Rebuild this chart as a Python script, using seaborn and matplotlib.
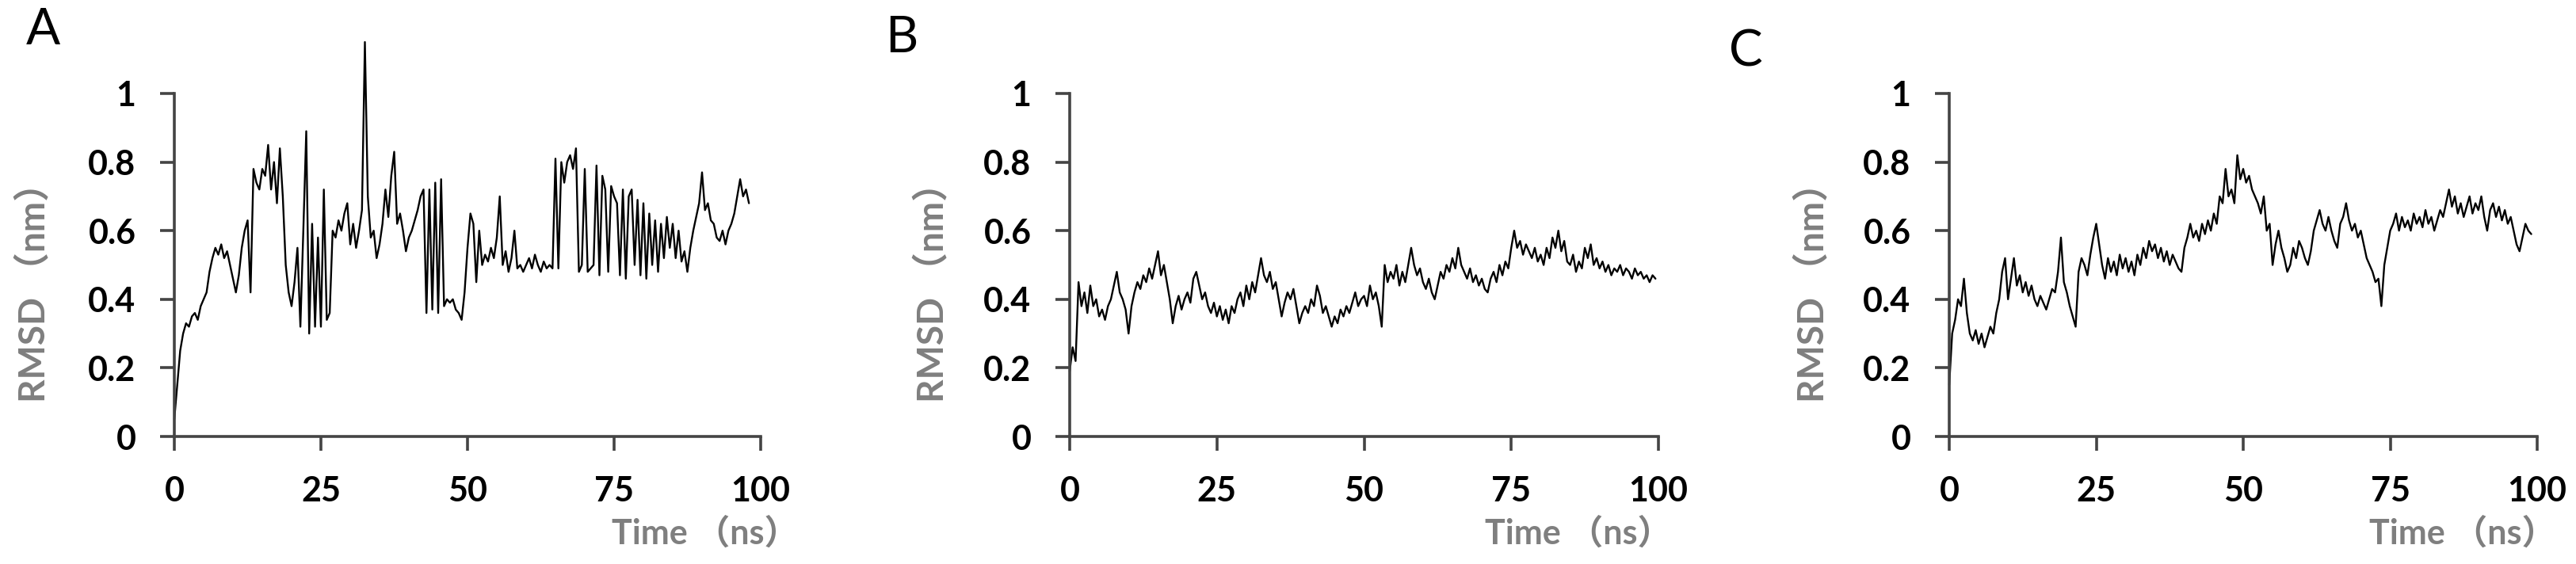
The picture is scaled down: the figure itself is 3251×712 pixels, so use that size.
import numpy as np
import pandas as pd
import matplotlib
matplotlib.use("Agg")
import matplotlib.pyplot as plt
import seaborn as sns

STEP = 0.5

rmsd_a = [
    0.05, 0.15, 0.25, 0.30, 0.33, 0.32, 0.35, 0.36, 0.34, 0.38,
    0.40, 0.42, 0.48, 0.52, 0.55, 0.53, 0.56, 0.52, 0.54, 0.50,
    0.46, 0.42, 0.47, 0.55, 0.60, 0.63, 0.42, 0.78, 0.74, 0.72,
    0.78, 0.76, 0.85, 0.72, 0.80, 0.68, 0.84, 0.70, 0.50, 0.42,
    0.38, 0.45, 0.55, 0.32, 0.60, 0.89, 0.30, 0.62, 0.32, 0.58,
    0.32, 0.72, 0.34, 0.36, 0.60, 0.58, 0.63, 0.60, 0.65, 0.68,
    0.56, 0.62, 0.55, 0.60, 0.66, 1.15, 0.70, 0.58, 0.60, 0.52,
    0.56, 0.62, 0.72, 0.64, 0.76, 0.83, 0.62, 0.65, 0.60, 0.54,
    0.58, 0.60, 0.63, 0.66, 0.70, 0.72, 0.36, 0.72, 0.37, 0.74,
    0.36, 0.75, 0.38, 0.40, 0.39, 0.40, 0.37, 0.36, 0.34, 0.42,
    0.55, 0.65, 0.62, 0.45, 0.60, 0.50, 0.53, 0.51, 0.55, 0.52,
    0.58, 0.70, 0.50, 0.54, 0.48, 0.52, 0.60, 0.49, 0.50, 0.48,
    0.50, 0.52, 0.49, 0.53, 0.50, 0.48, 0.51, 0.49, 0.50, 0.49,
    0.81, 0.49, 0.80, 0.74, 0.80, 0.82, 0.78, 0.84, 0.48, 0.50,
    0.78, 0.48, 0.49, 0.50, 0.79, 0.47, 0.76, 0.72, 0.48, 0.73,
    0.70, 0.68, 0.47, 0.72, 0.46, 0.70, 0.72, 0.50, 0.69, 0.47,
    0.68, 0.46, 0.65, 0.50, 0.63, 0.48, 0.62, 0.52, 0.64, 0.55,
    0.62, 0.52, 0.60, 0.51, 0.54, 0.48, 0.55, 0.60, 0.64, 0.68,
    0.77, 0.66, 0.68, 0.63, 0.62, 0.58, 0.57, 0.60, 0.56, 0.60,
    0.62, 0.65, 0.70, 0.75, 0.70, 0.72, 0.68,
]

rmsd_b = [
    0.19, 0.26, 0.22, 0.45, 0.38, 0.42, 0.36, 0.44, 0.38, 0.40,
    0.35, 0.37, 0.34, 0.38, 0.40, 0.44, 0.48, 0.42, 0.40, 0.37,
    0.30, 0.38, 0.42, 0.45, 0.43, 0.47, 0.45, 0.49, 0.46, 0.50,
    0.54, 0.47, 0.50, 0.45, 0.40, 0.33, 0.38, 0.41, 0.37, 0.40,
    0.42, 0.39, 0.46, 0.48, 0.44, 0.40, 0.42, 0.38, 0.36, 0.39,
    0.35, 0.38, 0.34, 0.37, 0.33, 0.38, 0.36, 0.40, 0.42, 0.38,
    0.44, 0.40, 0.45, 0.42, 0.47, 0.52, 0.47, 0.45, 0.48, 0.43,
    0.45, 0.40, 0.35, 0.39, 0.42, 0.40, 0.43, 0.38, 0.33, 0.36,
    0.38, 0.36, 0.40, 0.38, 0.44, 0.41, 0.36, 0.38, 0.35, 0.32,
    0.35, 0.33, 0.37, 0.35, 0.38, 0.36, 0.39, 0.42, 0.38, 0.40,
    0.41, 0.38, 0.44, 0.40, 0.42, 0.38, 0.32, 0.50, 0.45, 0.48,
    0.46, 0.50, 0.44, 0.48, 0.45, 0.50, 0.55, 0.50, 0.47, 0.49,
    0.45, 0.43, 0.46, 0.42, 0.40, 0.44, 0.48, 0.46, 0.50, 0.48,
    0.52, 0.49, 0.55, 0.50, 0.48, 0.46, 0.49, 0.45, 0.47, 0.44,
    0.46, 0.43, 0.42, 0.46, 0.48, 0.45, 0.50, 0.47, 0.51, 0.49,
    0.55, 0.60, 0.55, 0.57, 0.53, 0.56, 0.54, 0.52, 0.55, 0.51,
    0.53, 0.50, 0.55, 0.52, 0.58, 0.55, 0.60, 0.54, 0.57, 0.51,
    0.50, 0.53, 0.48, 0.51, 0.49, 0.55, 0.52, 0.56, 0.50, 0.52,
    0.49, 0.51, 0.48, 0.50, 0.47, 0.49, 0.48, 0.50, 0.47, 0.49,
    0.48, 0.46, 0.49, 0.47, 0.48, 0.46, 0.47, 0.45, 0.47, 0.46,
]

rmsd_c = [
    0.15, 0.30, 0.34, 0.40, 0.38, 0.46, 0.36, 0.30, 0.28, 0.31,
    0.27, 0.30, 0.26, 0.29, 0.32, 0.30, 0.36, 0.40, 0.48, 0.52,
    0.40, 0.46, 0.52, 0.44, 0.47, 0.42, 0.45, 0.41, 0.44, 0.40,
    0.38, 0.41, 0.39, 0.37, 0.40, 0.43, 0.42, 0.48, 0.58, 0.45,
    0.42, 0.38, 0.35, 0.32, 0.48, 0.52, 0.50, 0.47, 0.53, 0.58,
    0.62, 0.56, 0.50, 0.46, 0.52, 0.48, 0.51, 0.47, 0.53, 0.49,
    0.52, 0.48, 0.51, 0.47, 0.53, 0.50, 0.55, 0.52, 0.57, 0.54,
    0.56, 0.52, 0.55, 0.51, 0.54, 0.50, 0.53, 0.51, 0.49, 0.48,
    0.55, 0.58, 0.62, 0.58, 0.60, 0.57, 0.62, 0.59, 0.63, 0.60,
    0.65, 0.62, 0.70, 0.68, 0.78, 0.70, 0.72, 0.68, 0.82, 0.75,
    0.78, 0.74, 0.76, 0.72, 0.70, 0.68, 0.65, 0.70, 0.60, 0.62,
    0.50, 0.56, 0.60, 0.55, 0.52, 0.48, 0.50, 0.55, 0.52, 0.57,
    0.55, 0.52, 0.50, 0.54, 0.60, 0.63, 0.66, 0.62, 0.60, 0.64,
    0.60, 0.57, 0.55, 0.62, 0.64, 0.68, 0.63, 0.60, 0.62, 0.58,
    0.60, 0.56, 0.52, 0.50, 0.48, 0.45, 0.46, 0.38, 0.50, 0.55,
    0.60, 0.62, 0.65, 0.60, 0.64, 0.61, 0.63, 0.60, 0.65, 0.62,
    0.64, 0.61, 0.66, 0.62, 0.64, 0.60, 0.63, 0.66, 0.64, 0.68,
    0.72, 0.67, 0.70, 0.65, 0.68, 0.64, 0.67, 0.70, 0.65, 0.68,
    0.66, 0.70, 0.64, 0.60, 0.66, 0.68, 0.64, 0.67, 0.63, 0.66,
    0.62, 0.64, 0.60, 0.56, 0.54, 0.58, 0.62, 0.60, 0.59,
]

panel_letters = ["A", "B", "C"]
x_ticks = [0, 25, 50, 75, 100]
y_ticks = [0, 0.2, 0.4, 0.6, 0.8, 1]
y_ticklabels = ["0", "0.2", "0.4", "0.6", "0.8", "1"]

sns.set_theme(style="ticks")
plt.rcParams["font.family"] = ["Lato", "Noto Sans CJK SC", "DejaVu Sans"]

W, H = 3251, 712
fig = plt.figure(figsize=(W / 100, H / 100), dpi=100)

# axes boxes in pixels: left, right of x-axis; y=0 and y=1 rows
boxes = [(220, 960), (1350, 2093), (2460, 3202)]
y0_px, y1_px = 551, 118
letter_pos = [(54, 38), (1138, 48), (2203, 66)]
ylabel_x = [42, 1176, 2287]
xlabel_right = [1008, 2110, 3225]

spine_col = "#444444"
label_col = "#7f7f7f"

for i, rmsd in enumerate([rmsd_a, rmsd_b, rmsd_c]):
    l, r = boxes[i]
    ax = fig.add_axes([l / W, (H - y0_px) / H, (r - l) / W, (y0_px - y1_px) / H])
    df = pd.DataFrame({"time": np.arange(len(rmsd)) * STEP, "rmsd": rmsd})
    sns.lineplot(data=df, x="time", y="rmsd", ax=ax, color="black",
                 lw=1.7, estimator=None, sort=False)
    for ln in ax.lines:
        ln.set_clip_on(False)

    ax.set_xlim(0, 100)
    ax.set_ylim(0, 1)
    ax.set_xticks(x_ticks)
    ax.set_xticklabels([str(t) for t in x_ticks])
    ax.set_yticks(y_ticks)
    ax.set_yticklabels(y_ticklabels)
    sns.despine(ax=ax)
    for s in ["left", "bottom"]:
        ax.spines[s].set_color(spine_col)
        ax.spines[s].set_linewidth(2.6)
    ax.tick_params(axis="both", length=13, width=2.6, color=spine_col,
                   labelsize=31, pad=22, labelcolor="black")
    for t in ax.get_xticklabels() + ax.get_yticklabels():
        t.set_fontweight("bold")

    ax.set_ylabel("RMSD （nm）", fontsize=33, fontweight="bold", color=label_col)
    ax.yaxis.set_label_coords((ylabel_x[i] - l) / (r - l),
                              (y0_px - 358) / (y0_px - y1_px))
    ax.yaxis.label.set_va("center")

    ax.set_xlabel("Time （ns）", fontsize=31, fontweight="bold", color=label_col,
                  ha="right")
    ax.xaxis.set_label_coords((xlabel_right[i] - l) / (r - l),
                              (y0_px - 673) / (y0_px - y1_px))
    ax.xaxis.label.set_va("center")

    lx, ly = letter_pos[i]
    fig.text(lx / W, 1 - ly / H, panel_letters[i], fontsize=46,
             fontweight="normal", ha="center", va="center", color="black")

fig.savefig("out.png", dpi=100, facecolor="white")
